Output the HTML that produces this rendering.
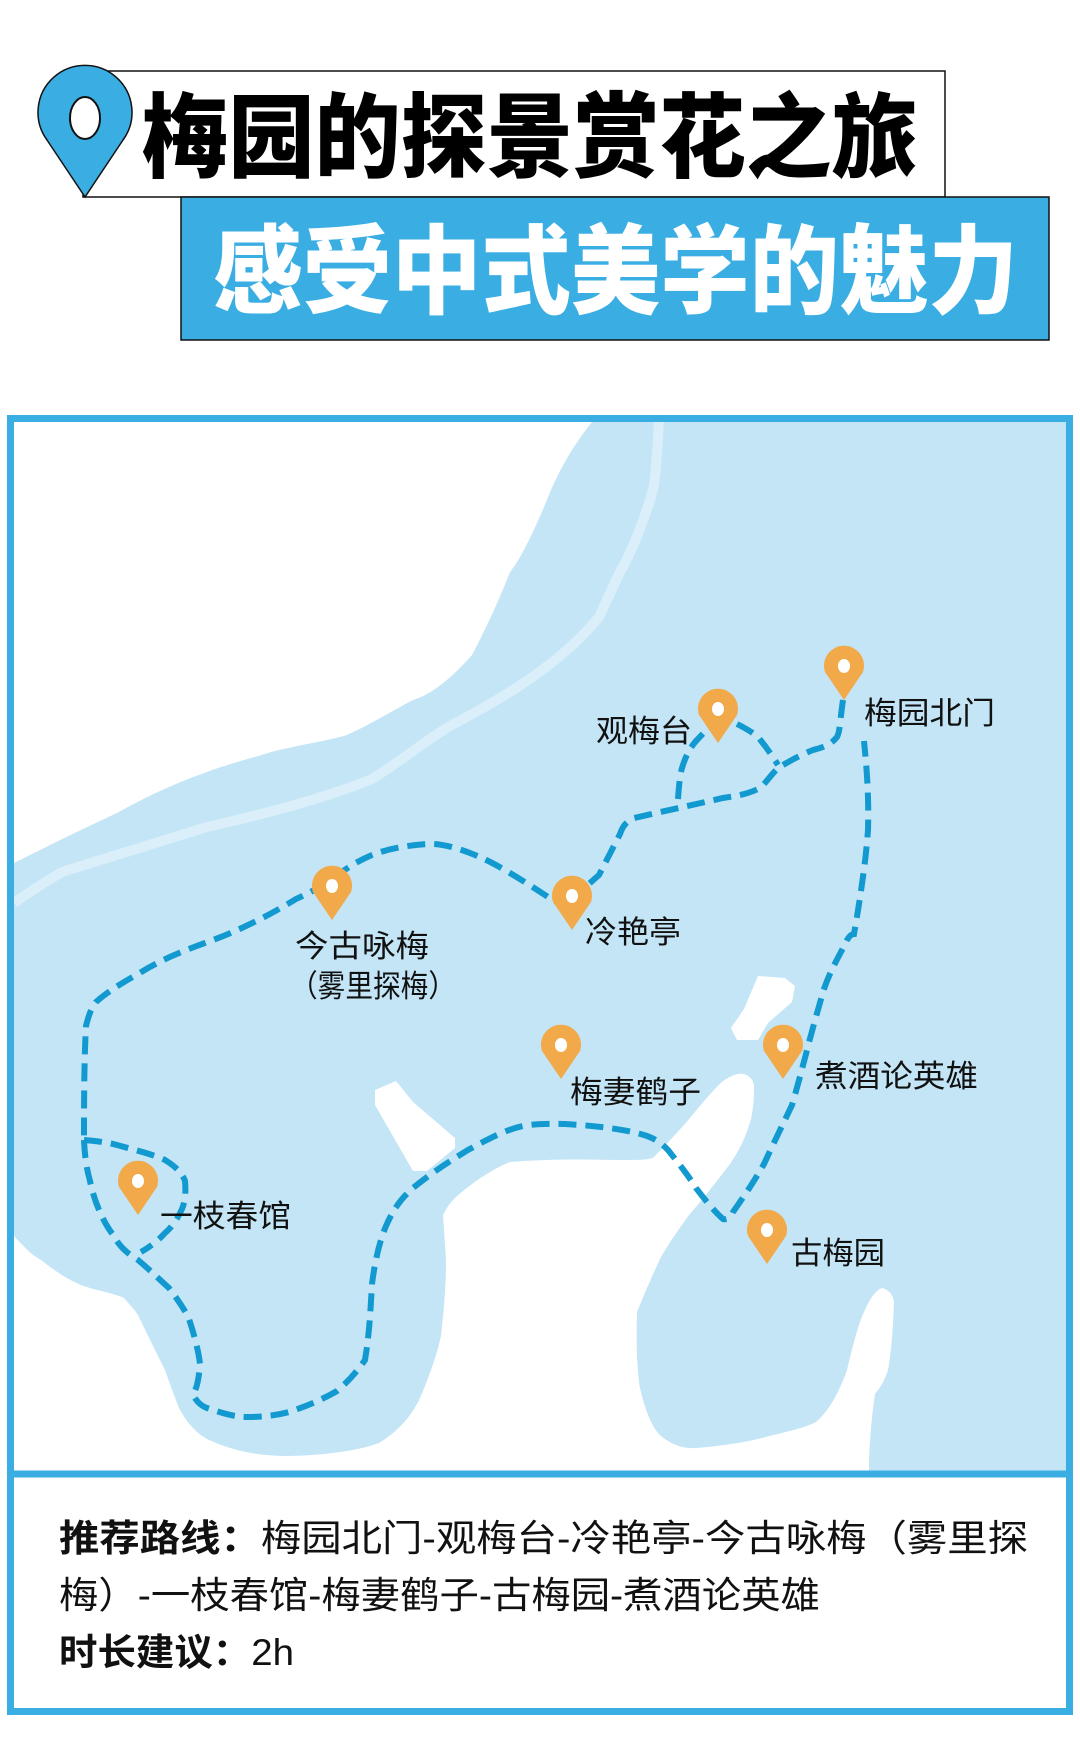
<!DOCTYPE html>
<html><head><meta charset="utf-8"><style>
html,body{margin:0;padding:0;background:#fff;}
svg{display:block;}
text{font-family:"Liberation Sans","Noto Sans CJK SC",sans-serif;}
</style></head><body>
<svg width="1080" height="1752" viewBox="0 0 1080 1752" xmlns="http://www.w3.org/2000/svg">
<!-- title -->
<rect x="83" y="71" width="862" height="126" fill="#fff" stroke="#111" stroke-width="1.5"/>
<rect x="181" y="197" width="868" height="143" fill="#3aaee3" stroke="#111" stroke-width="1.5"/>
<path d="M85,197 L47,140 A47,47 0 1 1 123,140 Z" fill="#3aaee3" stroke="#111" stroke-width="1.5"/>
<ellipse cx="85" cy="118" rx="15" ry="21" fill="#fff" stroke="#111" stroke-width="2"/>
<text x="142" y="170" font-size="92" font-weight="900" fill="#000" textLength="776" lengthAdjust="spacingAndGlyphs" style="font-family:'Noto Sans CJK SC',sans-serif">梅园的探景赏花之旅</text>
<text x="213" y="306" font-size="97" font-weight="900" fill="#fff" textLength="805" lengthAdjust="spacingAndGlyphs" style="font-family:'Noto Sans CJK SC',sans-serif">感受中式美学的魅力</text>

<!-- map -->
<rect x="14" y="422" width="1052" height="1049" fill="#c3e5f6"/>
<path d="M14,422 L592,422 C570,450 560,470 551,490 C535,530 520,560 510,572 C495,610 485,630 472,655 C450,680 430,695 413,700 C385,715 360,730 344,736 C325,741 300,745 275,751 C245,760 225,765 207,772 C170,785 140,800 117,813 C80,830 40,850 14,863 Z" fill="#fff"/>
<path d="M659,419 C658,440 656,470 654,486 C645,520 630,555 620,572 L599,617 C560,665 500,700 448,727 C420,745 395,765 372,779 C320,800 260,815 207,827 C150,845 100,860 62,872 C40,885 25,895 14,903" fill="none" stroke="#daeff9" stroke-width="10"/>
<path d="M14,1236 C25,1248 32,1255 41,1260 C60,1275 75,1284 90,1288 C105,1292 118,1295 124,1298 C130,1305 135,1310 138,1315 C150,1340 160,1360 165,1370 C172,1390 176,1400 179,1408 C188,1425 198,1434 207,1439 C235,1452 260,1456 289,1456 C330,1455 360,1450 379,1443 C400,1430 412,1415 420,1398 C432,1370 438,1350 441,1336 C445,1300 446,1280 446,1260 L443,1215 C447,1207 451,1202 455,1198 C475,1180 495,1168 510,1162 C560,1158 600,1160 620,1160 C640,1160 650,1160 654,1157 C670,1140 680,1130 689,1119 C705,1100 715,1088 723,1081 C732,1075 738,1073 744,1074 C750,1076 753,1080 754,1085 C754,1100 753,1110 751,1119 C745,1140 738,1152 730,1164 C710,1190 698,1205 689,1215 C678,1230 668,1245 661,1257 C650,1280 642,1300 637,1312 C636,1340 637,1370 640,1388 C645,1410 652,1428 661,1436 C672,1445 684,1449 696,1448 C720,1446 740,1443 758,1439 C785,1432 805,1428 816,1422 C830,1410 840,1390 847,1370 C853,1345 858,1325 864,1312 C870,1298 876,1290 882,1288 C890,1290 893,1296 894,1302 C893,1330 891,1355 888,1370 C883,1385 878,1390 875,1394 C871,1420 869,1450 869,1471 L14,1471 Z" fill="#fff"/>
<path d="M375,1090 L396,1081 L413,1102 L455,1138 L455,1148 L427,1171 L413,1171 L375,1105 Z" fill="#fff"/>
<path d="M758,976 L785,978 L795,986 L792,1002 L768,1023 L758,1040 L737,1040 L731,1028 L744,1009 Z" fill="#fff"/>

<!-- route -->
<g fill="none" stroke="#1199d0" stroke-width="6" stroke-dasharray="18 9">
<path d="M843,700 C840,720 840,732 837,737 C830,746 820,748 813,750 C798,756 788,762 778,768 C768,778 765,785 758,789 C745,795 735,796 723,798 L634,818 C625,822 622,828 620,834 L599,875 L572,899"/>
<path d="M572,899 C565,905 557,903 551,899 C530,885 500,866 482,858 C460,848 440,843 427,844 C400,846 385,850 372,855 C355,862 345,870 337,875 C320,888 305,895 296,899 C270,915 240,930 213,940 C185,950 160,960 138,974 C118,985 105,994 96,1002 C90,1010 88,1018 86,1026 C84,1060 84,1110 84,1140"/>
<path d="M84,1140 C85,1160 87,1170 90,1181 C95,1205 105,1225 114,1236 C120,1248 130,1255 138,1260 C150,1270 160,1280 169,1288 C178,1300 185,1310 189,1319 C196,1340 199,1355 200,1364 C199,1380 196,1390 193,1395 C197,1402 201,1406 207,1408 C225,1414 235,1417 248,1417 C265,1417 278,1415 289,1412 C310,1405 325,1398 337,1391 C350,1380 358,1370 365,1360 C370,1330 371,1300 372,1284 C375,1260 380,1240 386,1226 C395,1205 405,1195 413,1188 C435,1170 455,1158 468,1150 C490,1138 505,1130 523,1126 C540,1123 555,1124 565,1124 C600,1126 630,1130 647,1136 C658,1140 663,1145 668,1150 C680,1165 690,1178 696,1188 C705,1200 715,1212 723,1219 C728,1220 731,1217 733,1212 C745,1195 755,1180 764,1164 C775,1140 785,1120 792,1105 C798,1085 803,1065 806,1054 C812,1030 818,1010 823,992 C830,970 840,955 847,940 C850,935 852,934 854,934 C860,900 866,860 868,830 C869,800 867,770 864,741"/>
<path d="M678,799 C679,785 680,775 682,768 C686,755 690,748 696,741 L716,720 M737,724 C745,728 752,732 758,737 C767,748 773,757 778,765"/>
<path d="M84,1140 C95,1141 106,1142 117,1145 C135,1150 152,1154 165,1160 C178,1168 183,1175 185,1181 C186,1192 185,1202 182,1209 C177,1220 171,1228 165,1233 C157,1242 148,1248 141,1252"/>
</g>

<!-- pins -->
<g fill="#f2a94a">
<path d="M844,700 L825,672 A20,20 0 1 1 863,672 Z"/>
<path d="M718,743 L699,715 A20,20 0 1 1 737,715 Z"/>
<path d="M332,920 L313,892 A20,20 0 1 1 351,892 Z"/>
<path d="M572,930 L553,902 A20,20 0 1 1 591,902 Z"/>
<path d="M561,1079 L542,1051 A20,20 0 1 1 580,1051 Z"/>
<path d="M783,1079 L764,1051 A20,20 0 1 1 802,1051 Z"/>
<path d="M138,1215 L119,1187 A20,20 0 1 1 157,1187 Z"/>
<path d="M767,1264 L748,1236 A20,20 0 1 1 786,1236 Z"/>
</g>
<g fill="#fff">
<ellipse cx="844" cy="666" rx="6" ry="7"/>
<ellipse cx="718" cy="709" rx="6" ry="7"/>
<ellipse cx="332" cy="886" rx="6" ry="7"/>
<ellipse cx="572" cy="896" rx="6" ry="7"/>
<ellipse cx="561" cy="1045" rx="6" ry="7"/>
<ellipse cx="783" cy="1045" rx="6" ry="7"/>
<ellipse cx="138" cy="1181" rx="6" ry="7"/>
<ellipse cx="767" cy="1230" rx="6" ry="7"/>
</g>

<!-- labels -->
<g font-size="31" fill="#111">
<text x="864" y="724" textLength="131" lengthAdjust="spacingAndGlyphs">梅园北门</text>
<text x="596" y="742" textLength="96" lengthAdjust="spacingAndGlyphs">观梅台</text>
<text x="585" y="943" textLength="96" lengthAdjust="spacingAndGlyphs">冷艳亭</text>
<text x="295" y="957" textLength="134" lengthAdjust="spacingAndGlyphs">今古咏梅</text>
<text x="290" y="997" textLength="166" lengthAdjust="spacingAndGlyphs">（雾里探梅）</text>
<text x="570" y="1103" textLength="131" lengthAdjust="spacingAndGlyphs">梅妻鹤子</text>
<text x="815" y="1087" textLength="163" lengthAdjust="spacingAndGlyphs">煮酒论英雄</text>
<text x="160" y="1227" textLength="131" lengthAdjust="spacingAndGlyphs">一枝春馆</text>
<text x="791" y="1264" textLength="94" lengthAdjust="spacingAndGlyphs">古梅园</text>
</g>

<!-- frame -->
<rect x="10.5" y="418.5" width="1059" height="1293" fill="none" stroke="#3aaee3" stroke-width="7"/>
<line x1="10" y1="1474" x2="1070" y2="1474" stroke="#3aaee3" stroke-width="7"/>

<!-- bottom text -->
<g font-size="37" fill="#111">
<text x="59" y="1551" textLength="969" lengthAdjust="spacingAndGlyphs"><tspan font-weight="bold">推荐路线：</tspan>梅园北门-观梅台-冷艳亭-今古咏梅（雾里探</text>
<text x="59" y="1608" textLength="761" lengthAdjust="spacingAndGlyphs">梅）-一枝春馆-梅妻鹤子-古梅园-煮酒论英雄</text>
<text x="59" y="1665" textLength="235" lengthAdjust="spacingAndGlyphs"><tspan font-weight="bold">时长建议：</tspan>2h</text>
</g>
</svg>
</body></html>
